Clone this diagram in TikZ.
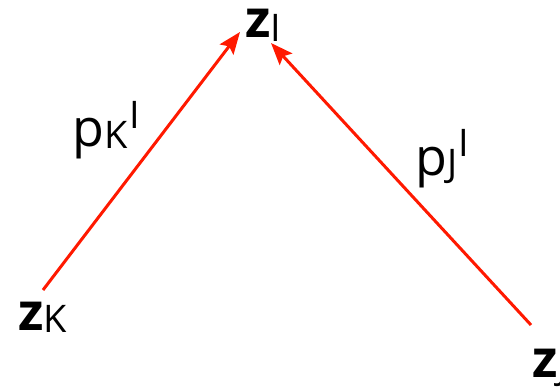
\documentclass[tikz,border=0pt]{standalone}
\usepackage{fontspec}
\setmainfont{Open Sans}
\usetikzlibrary{arrows.meta}
\definecolor{arrred}{RGB}{255,25,0}
\newcommand{\mainsz}{\fontsize{52}{52}\selectfont}
\newcommand{\subsz}{\fontsize{38}{38}\selectfont}
\begin{document}
\begin{tikzpicture}[x=1pt,y=1pt,
  lbl/.style={inner sep=0pt, anchor=base west, font=\mainsz},
  conn/.style={draw=arrred, line width=3pt, -{Stealth[length=22pt,width=17pt,inset=4pt]}}]
\useasboundingbox (0,0) rectangle (560,389);
\node[lbl] (zI) at (245,351) {\textbf{z}\raisebox{-4pt}{\subsz I}};
\node[lbl] (zK) at (18,59) {\textbf{z}\raisebox{-2pt}{\subsz K}};
\node[lbl] (zJ) at (532,12) {\textbf{z}\raisebox{-2pt}{\subsz J}};
\node[lbl] (pK) at (72,242) {p\raisebox{-2pt}{\subsz K}\hspace{2pt}\raisebox{18pt}{\subsz I}};
\node[lbl] (pJ) at (415,214) {p\raisebox{-2pt}{\subsz J}\hspace{1pt}\raisebox{18pt}{\subsz I}};
\coordinate (sK) at (43,99);
\coordinate (tI1) at (240,357);
\coordinate (sJ) at (531,64);
\coordinate (tI2) at (271,346);
\draw[conn] (sK) -- (tI1);
\draw[conn] (sJ) -- (tI2);
\end{tikzpicture}
\end{document}
